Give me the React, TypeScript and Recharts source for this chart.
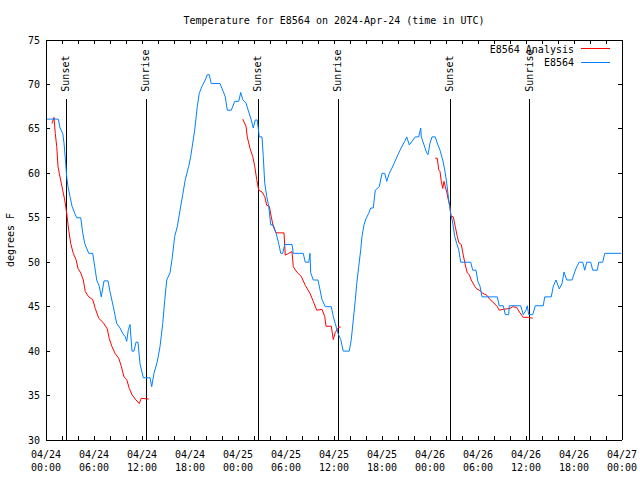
import React from 'react';
import { LineChart, Line, XAxis, YAxis, ReferenceLine } from 'recharts';

const FONT = '"DejaVu Sans Mono", "Liberation Mono", monospace';

// hours after 2024-04-24 00:00 UTC, temperature in F
const obsPoints: [number, number][] = [
  [0.09, 66.1], [1.54, 66.1], [1.75, 65.1], [2.09, 64.5], [2.25, 63.4], [2.41, 61.7],
  [2.59, 59.6], [2.75, 58.5], [3.0, 57.4], [3.25, 56.3], [3.59, 55.5], [3.84, 55.0],
  [4.34, 55.0], [4.59, 53.3], [4.84, 52.1], [5.34, 51.0], [5.84, 51.0], [6.09, 49.5],
  [6.34, 48.0], [6.66, 47.3], [6.91, 46.1], [7.25, 47.9], [7.75, 47.9], [8.0, 46.7],
  [8.41, 45.0], [8.84, 43.1], [9.25, 42.6], [9.59, 42.0], [9.91, 41.6], [10.09, 41.1],
  [10.29, 42.4], [10.5, 43.0], [10.75, 40.0], [11.0, 40.0], [11.25, 41.0], [11.5, 41.0],
  [11.75, 38.6], [12.16, 37.0], [13.0, 37.0], [13.21, 36.0], [13.5, 37.5], [13.91, 38.8],
  [14.25, 40.5], [14.59, 43.1], [14.84, 45.7], [15.09, 48.0], [15.5, 48.8], [15.75, 50.3],
  [16.09, 52.9], [16.41, 54.0], [16.84, 56.3], [17.09, 57.6], [17.41, 59.3], [17.84, 60.8],
  [18.09, 61.9], [18.34, 63.4], [18.59, 64.9], [18.91, 67.5], [19.16, 69.0], [19.5, 69.8],
  [19.91, 70.5], [20.16, 71.1], [20.41, 71.1], [20.66, 70.1], [21.75, 70.1], [22.16, 69.2],
  [22.41, 68.6], [22.66, 67.1], [23.16, 67.1], [23.59, 68.1], [24.09, 68.1], [24.34, 69.1],
  [24.59, 68.3], [25.0, 67.9], [25.34, 66.9], [25.66, 66.0], [25.91, 65.1], [26.16, 66.0],
  [26.41, 66.0], [26.66, 64.1], [27.0, 64.1], [27.16, 61.9], [27.34, 58.9], [27.59, 57.4],
  [27.84, 56.3], [28.09, 54.2], [28.41, 54.2], [28.75, 53.3], [29.09, 52.1], [29.34, 51.0],
  [29.59, 51.0], [29.84, 52.0], [30.75, 52.0], [30.91, 51.0], [32.16, 51.0], [32.41, 50.0],
  [32.84, 50.0], [33.0, 51.0], [33.09, 48.8], [33.41, 48.0], [34.0, 48.0], [34.25, 46.9],
  [34.5, 45.8], [34.91, 45.0], [35.66, 45.0], [35.91, 43.9], [36.16, 43.1], [36.5, 42.0],
  [36.84, 41.3], [37.16, 40.0], [37.91, 40.0], [38.16, 41.3], [38.41, 43.5], [38.66, 45.7],
  [38.84, 47.6], [39.09, 49.5], [39.34, 51.4], [39.5, 52.9], [39.75, 54.2], [40.0, 54.9],
  [40.34, 55.5], [40.59, 56.1], [40.91, 56.1], [41.16, 58.1], [41.66, 58.5], [42.0, 60.0],
  [42.34, 60.0], [42.59, 59.1], [42.91, 60.0], [43.25, 60.6], [43.5, 61.1], [43.75, 61.6],
  [44.0, 62.1], [44.25, 62.6], [44.59, 63.2], [44.84, 63.6], [45.09, 64.1], [45.41, 63.2],
  [45.75, 63.6], [46.16, 64.1], [46.59, 64.1], [46.84, 65.1], [46.91, 64.1], [47.25, 63.2],
  [47.59, 62.3], [47.75, 62.1], [48.0, 63.4], [48.25, 64.1], [48.66, 64.1], [48.91, 63.4],
  [49.25, 62.6], [49.59, 61.5], [49.84, 60.4], [50.09, 58.9], [50.34, 57.0], [50.59, 55.5],
  [50.84, 54.4], [51.09, 52.9], [51.34, 52.1], [51.59, 51.4], [51.84, 50.0], [53.09, 50.0],
  [53.34, 49.1], [53.75, 49.1], [54.0, 47.8], [54.25, 47.3], [54.5, 46.1], [56.41, 46.1],
  [56.66, 45.1], [57.16, 45.1], [57.41, 44.1], [57.84, 44.1], [57.91, 45.1], [59.34, 45.1],
  [59.66, 44.1], [60.0, 44.6], [60.16, 45.1], [60.34, 44.1], [60.84, 44.1], [61.16, 45.1],
  [62.16, 45.1], [62.34, 46.1], [63.16, 46.1], [63.41, 47.3], [63.75, 48.0], [64.16, 47.0],
  [64.5, 47.6], [64.75, 48.9], [65.09, 48.0], [65.75, 48.0], [66.09, 48.9], [66.34, 49.5],
  [66.66, 50.0], [67.09, 50.0], [67.34, 49.1], [67.59, 50.0], [68.09, 50.0], [68.34, 49.1],
  [68.91, 49.1], [69.09, 50.0], [69.59, 50.0], [69.84, 51.0], [71.91, 51.0],
];

const analysisNight1: [number, number][] = [
  [0.75, 65.6], [1.0, 66.3], [1.16, 64.5], [1.34, 63.0], [1.5, 60.8], [1.66, 60.0],
  [1.91, 58.9], [2.09, 58.1], [2.34, 57.0], [2.59, 55.5], [2.84, 53.6], [3.09, 52.1],
  [3.41, 51.0], [3.75, 50.3], [4.0, 49.3], [4.34, 48.8], [4.66, 48.0], [4.91, 46.7],
  [5.34, 46.1], [5.84, 45.8], [6.16, 44.8], [6.59, 43.7], [7.16, 43.2], [7.66, 42.5],
  [7.91, 41.4], [8.25, 40.5], [8.66, 39.7], [9.09, 39.2], [9.41, 38.3], [9.75, 37.1],
  [10.09, 36.8], [10.41, 35.8], [10.75, 35.1], [11.16, 34.6], [11.66, 34.1], [11.91, 34.7],
  [12.84, 34.6],
];

const analysisNight2: [number, number][] = [
  [24.59, 66.1], [25.0, 65.3], [25.16, 64.1], [25.5, 62.8], [25.84, 61.9], [26.09, 60.8],
  [26.34, 59.3], [26.59, 58.1], [27.0, 57.9], [27.34, 57.4], [27.59, 56.4], [27.91, 56.3],
  [28.16, 55.1], [28.41, 54.0], [28.75, 53.3], [29.75, 53.3], [29.91, 50.8], [30.34, 51.0],
  [30.75, 51.2], [30.91, 49.5], [31.34, 48.9], [31.91, 48.4], [32.41, 47.4], [33.0, 46.5],
  [33.41, 45.6], [33.84, 44.6], [34.5, 44.7], [34.84, 43.9], [35.0, 42.8], [35.66, 42.8],
  [35.91, 41.3], [36.16, 42.1], [36.59, 42.7], [36.84, 42.7],
];

const analysisNight3: [number, number][] = [
  [48.66, 61.7], [48.91, 61.7], [49.09, 60.4], [49.25, 60.2], [49.41, 59.1], [49.59, 58.3],
  [49.75, 59.1], [49.91, 58.5], [50.09, 57.9], [50.34, 56.8], [50.5, 56.3], [50.59, 55.2],
  [50.91, 55.1], [51.16, 54.0], [51.41, 52.9], [51.59, 52.2], [51.91, 52.0], [52.16, 50.8],
  [52.41, 49.7], [52.66, 48.8], [52.91, 48.6], [53.16, 48.0], [53.59, 47.3], [53.84, 47.0],
  [54.25, 46.8], [54.59, 46.5], [55.09, 46.3], [55.5, 45.8], [56.0, 45.4], [56.41, 45.0],
  [56.66, 44.6], [57.16, 44.7], [58.0, 44.8], [58.34, 45.0], [58.84, 44.9], [59.25, 44.3],
  [59.66, 43.8], [60.29, 43.8], [60.84, 43.7],
];

const sunHours = [2.5, 12.5, 26.5, 36.5, 50.5, 60.4];
const sunNames = ['Sunset', 'Sunrise', 'Sunset', 'Sunrise', 'Sunset', 'Sunrise'];
const sunLineTop = 68.4;

const xTicks = [0, 2, 4, 6, 8, 10, 12, 14, 16, 18, 20, 22, 24, 26, 28, 30, 32, 34, 36,
  38, 40, 42, 44, 46, 48, 50, 52, 54, 56, 58, 60, 62, 64, 66, 68, 70, 72];
const xDates = ['04/24', '04/24', '04/24', '04/24', '04/25', '04/25', '04/25', '04/25',
  '04/26', '04/26', '04/26', '04/26', '04/27'];
const xTimes = ['00:00', '06:00', '12:00', '18:00', '00:00', '06:00', '12:00', '18:00',
  '00:00', '06:00', '12:00', '18:00', '00:00'];
const yTicks = [30, 35, 40, 45, 50, 55, 60, 65, 70, 75];

const toRows = (pts: [number, number][]) => pts.map(([h, v]) => ({ h, v }));

const crisp = { stroke: '#000', shapeRendering: 'crispEdges' };

const XTick = (props: any) => {
  const { x, y, payload } = props;
  const h = payload.value;
  if (h % 6 !== 0) return <g />;
  const i = h / 6;
  return (
    <text x={x} y={y} textAnchor="middle" fontFamily={FONT} fontSize={10} fill="#000">
      <tspan x={x} dy={18}>{xDates[i]}</tspan>
      <tspan x={x} dy={13}>{xTimes[i]}</tspan>
    </text>
  );
};

const YTick = (props: any) => {
  const { x, y, payload } = props;
  return (
    <text x={x} y={y} dy="0.35em" textAnchor="end" fontFamily={FONT} fontSize={10} fill="#000">
      {payload.value}
    </text>
  );
};

const SunLabel = (props: any) => {
  const { viewBox, text } = props;
  const x = viewBox.x;
  const y = viewBox.y - 7;
  return (
    <text x={x} y={y} dy="0.35em" transform={`rotate(-90, ${x}, ${y})`}
      fontFamily={FONT} fontSize={10} fill="#000" textAnchor="start">
      {text}
    </text>
  );
};

export default function App() {
  return (
    <div style={{ position: 'absolute', left: 0, top: 0, width: 640, height: 480, background: '#fff' }}>
      <LineChart width={640} height={480} margin={{ top: 10, right: 8, bottom: 0, left: 0 }}>
        <XAxis xAxisId="bottom" type="number" dataKey="h" domain={[0, 72]} ticks={xTicks}
          interval={0} height={40} stroke="#000" tickSize={-4} tickMargin={4}
          axisLine={crisp} tickLine={crisp} tick={<XTick />} allowDataOverflow />
        <XAxis xAxisId="top" orientation="top" type="number" dataKey="h" domain={[0, 72]}
          ticks={xTicks} interval={0} height={30} stroke="#000" tickSize={-4}
          axisLine={crisp} tickLine={crisp} tick={() => <g />} allowDataOverflow />
        <YAxis yAxisId="left" type="number" domain={[30, 75]} ticks={yTicks} interval={0}
          width={46} stroke="#000" tickSize={-4} tickMargin={10}
          axisLine={crisp} tickLine={crisp} tick={<YTick />} allowDataOverflow />
        <YAxis yAxisId="right" orientation="right" type="number" domain={[30, 75]} ticks={yTicks}
          interval={0} width={10} stroke="#000" tickSize={-4}
          axisLine={crisp} tickLine={crisp} tick={() => <g />} allowDataOverflow />

        {sunHours.map((h, i) => (
          <ReferenceLine key={`sun-${i}`} xAxisId="bottom" yAxisId="left"
            segment={[{ x: h, y: 30 }, { x: h, y: sunLineTop }]}
            stroke="#000" strokeWidth={1} shapeRendering="crispEdges"
            label={(p: any) => <SunLabel {...p} text={sunNames[i]} />} />
        ))}

        {[analysisNight1, analysisNight2, analysisNight3].map((seg, i) => (
          <Line key={`ana-${i}`} xAxisId="bottom" yAxisId="left" data={toRows(seg)}
            dataKey="v" type="linear" stroke="#ff0000" strokeWidth={1} dot={false}
            isAnimationActive={false} />
        ))}
        <Line xAxisId="bottom" yAxisId="left" data={toRows(obsPoints)} dataKey="v"
          type="linear" stroke="#0080ff" strokeWidth={1} dot={false} isAnimationActive={false} />
      </LineChart>

      <svg width={640} height={480} style={{ position: 'absolute', left: 0, top: 0, pointerEvents: 'none' }}>
        <text x={334} y={20} dy="0.35em" textAnchor="middle" fontFamily={FONT} fontSize={10}>
          Temperature for E8564 on 2024-Apr-24 (time in UTC)
        </text>
        <text x={10} y={240} dy="0.35em" textAnchor="middle" fontFamily={FONT} fontSize={10}
          transform="rotate(-90, 10, 240)">
          degrees F
        </text>
        <text x={574} y={49} dy="0.35em" textAnchor="end" fontFamily={FONT} fontSize={10}>E8564 Analysis</text>
        <line x1={581} x2={610} y1={48.5} y2={48.5} stroke="#ff0000" />
        <text x={574} y={62} dy="0.35em" textAnchor="end" fontFamily={FONT} fontSize={10}>E8564</text>
        <line x1={581} x2={610} y1={62.5} y2={62.5} stroke="#0080ff" />
      </svg>
    </div>
  );
}
